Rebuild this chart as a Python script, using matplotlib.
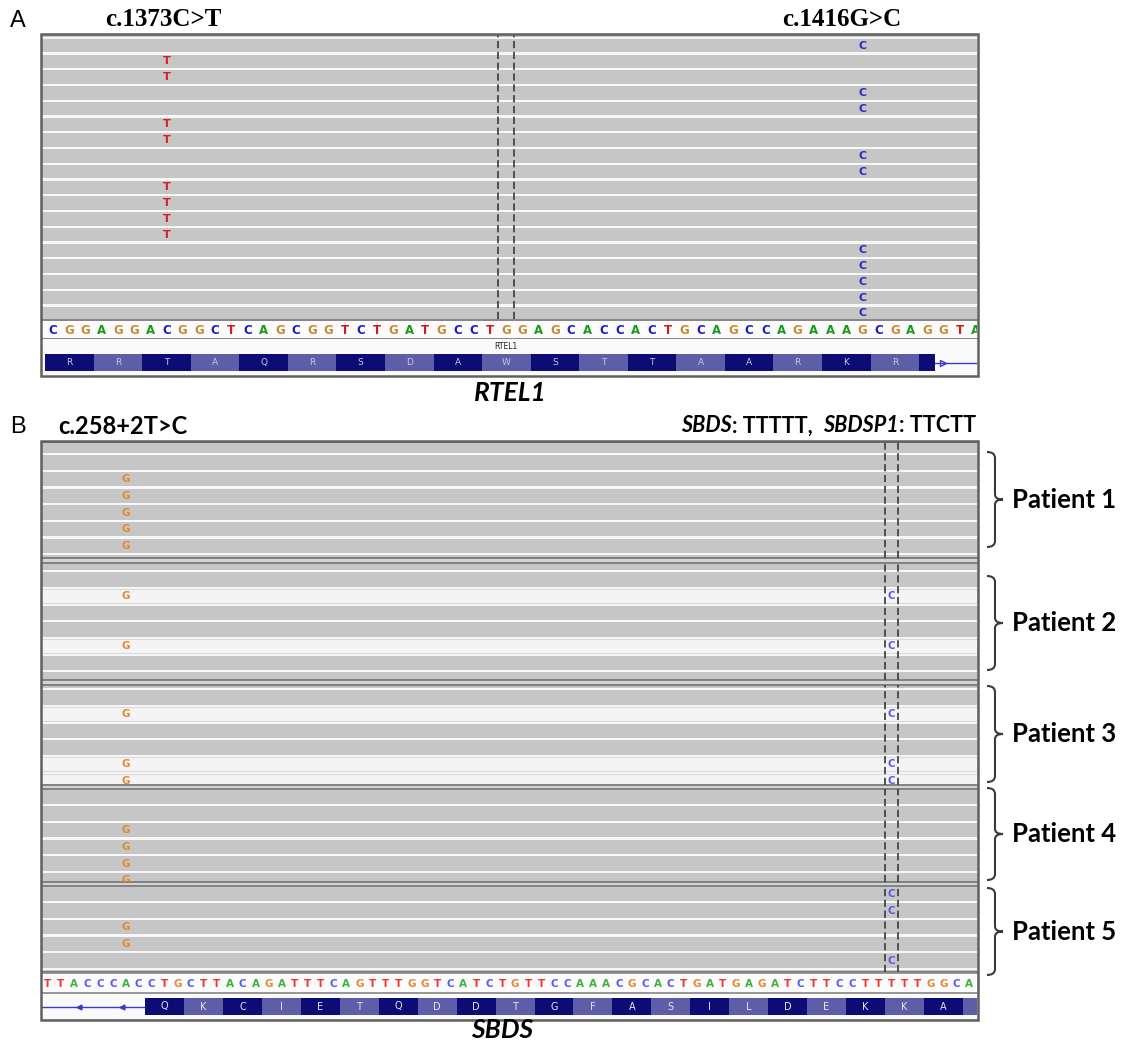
import matplotlib
matplotlib.use("Agg")
import matplotlib.pyplot as plt
from matplotlib.patches import Rectangle, PathPatch
from matplotlib.path import Path

W, H, DPI = 1128, 1044, 100

# ---------------- data ----------------
# Panel A (RTEL1)
ref_seq_A = "CGGAGGACGGCTCAGCGGTCTGATGCCTGGAGCACCACTGCAGCCAGAAAGCGAGGTA"
codons_A = ["R", "R", "T", "A", "Q", "R", "S", "D", "A", "W", "S", "T", "T", "A", "A", "R", "K", "R"]
exon_end_A = 54
gene_A = "RTEL1"
variants_A = ["c.1373C>T", "c.1416G>C"]
var_pos_A = [7, 50]
var_alt_A = ["T", "C"]
rows_A = list(range(-1, 18))
alt_rows_A = [[1, 2, 5, 6, 9, 10, 11, 12], [0, 3, 4, 7, 8, 13, 14, 15, 16, 17]]
center_A = 28

# Panel B (SBDS)
ref_seq_B = "TTACCCACCTGCTTACAGATTTCAGTTTGGTCATCTGTTCCAAACGCACTGATGAGATCTTCCTTTTTGGCA"
codons_B = ["Q", "K", "C", "I", "E", "T", "Q", "D", "D", "T", "G", "F", "A", "S", "I", "L", "D", "E", "K", "K", "A"]
exon_start_B = 8
gene_B = "SBDS"
variant_B = "c.258+2T>C"
var_pos_B = [6, 65]
var_alt_B = ["G", "C"]
patients = ["Patient 1", "Patient 2", "Patient 3", "Patient 4", "Patient 5"]
rows_B = [list(range(0, 8)), list(range(0, 8)), list(range(-1, 6)), list(range(0, 6)), list(range(0, 6))]
light_rows_B = [[], [2, 5], [1, 4, 5], [], []]
g_rows_B = [[2, 3, 4, 5, 6], [2, 5], [1, 4, 5], [2, 3, 4, 5], [2, 3]]
c_rows_B = [[], [2, 5], [1, 4, 5], [], [0, 1, 4]]
center_B = 65

# ---------------- style ----------------
READ_GRAY = "#c6c6c6"
READ_LIGHT = "#f4f4f4"
GAP = "#f7f7f7"
BORDER = "#606060"
AA_DARK = "#0c0c74"
AA_LIGHT = "#5e5ea8"
colA = {"A": "#1a9a1a", "C": "#1c1cc0", "G": "#c98a2e", "T": "#d81818"}
colB = {"A": "#3cb03c", "C": "#5a5af0", "G": "#e08a3a", "T": "#f03434"}
altcolA = {"T": "#d42020", "C": "#2a2ac8"}
altcolB = {"G": "#e0892f", "C": "#5a5af0"}

fig = plt.figure(figsize=(W / DPI, H / DPI), dpi=DPI)
fig.patch.set_facecolor("white")


def px_axes(l, t, r, b, z=1):
    ax = fig.add_axes([l / W, 1 - b / H, (r - l) / W, (b - t) / H], zorder=z)
    ax.set_xticks([])
    ax.set_yticks([])
    return ax


def draw_reads(ax, rows, xlim, c0, h, top, bottom, light=(), gap_px=2.4):
    ax.set_xlim(*xlim)
    ax.set_ylim((bottom - c0) / h, (top - c0) / h)
    ax.set_facecolor(GAP)
    g = gap_px / h
    for k in rows:
        fc = READ_LIGHT if k in light else READ_GRAY
        ax.add_patch(Rectangle((xlim[0] - 1, k - 0.5 + g / 2), xlim[1] - xlim[0] + 2, 1 - g,
                               facecolor=fc, edgecolor="#dadada" if k in light else "none",
                               lw=0.8, zorder=1))


def draw_seq(ax, seq, xlim, cols, fs):
    ax.set_xlim(*xlim)
    ax.set_ylim(0, 1)
    ax.set_facecolor("#fbfbfb")
    for i, b in enumerate(seq):
        ax.text(i, 0.45, b, color=cols[b], fontsize=fs, fontweight="bold",
                ha="center", va="center", clip_on=True, family="DejaVu Sans")


# ---------------- Panel A ----------------
xlimA = (-0.69, 57.08)
axA = px_axes(42, 35, 977, 319)
draw_reads(axA, rows_A, xlimA, 45.6, 15.75, 35, 319)
for pos, alt, rws in zip(var_pos_A, var_alt_A, alt_rows_A):
    for k in rws:
        axA.text(pos, k, alt, color=altcolA[alt], fontsize=8, fontweight="bold",
                 ha="center", va="center", clip_on=True, zorder=3)
for xv in (center_A - 0.5, center_A + 0.5):
    axA.axvline(xv, color="#454545", lw=1.3, ls=(0, (4, 2)), zorder=4)
for s in axA.spines.values():
    s.set_visible(False)

axAs = px_axes(42, 320, 977, 339)
draw_seq(axAs, ref_seq_A, xlimA, colA, 8.5)
for k, s in axAs.spines.items():
    s.set_visible(k in ("top", "bottom"))
    s.set_color("#707070")
    s.set_linewidth(1.2)

axAg = px_axes(42, 339, 977, 375)
axAg.set_xlim(*xlimA)
axAg.set_ylim(1, 0)
axAg.set_facecolor("#fafafa")
for s in axAg.spines.values():
    s.set_visible(False)
nA = len(codons_A)
axAg.bar([3 * k + 1 for k in range(nA)], 0.47, width=3, bottom=0.42, align="center",
         color=[AA_DARK if k % 2 == 0 else AA_LIGHT for k in range(nA)], zorder=2)
axAg.bar([exon_end_A], 0.47, width=1, bottom=0.42,
         color=AA_DARK if nA % 2 == 0 else AA_LIGHT, zorder=2)
for k, aa in enumerate(codons_A):
    axAg.text(3 * k + 1, 0.655, aa, color="#c8c8dc", fontsize=6.5, ha="center", va="center", zorder=3)
axAg.plot([exon_end_A + 0.5, xlimA[1]], [0.655, 0.655], color="#3a3ad0", lw=1.0, zorder=1)
axAg.plot([exon_end_A + 1.0], [0.655], marker=">", ms=5, mfc="none", mec="#3a3ad0", mew=1.0)
axAg.text(center_A, 0.22, gene_A, fontsize=5.5, ha="center", va="center", color="#202020")

fig.add_artist(Rectangle((41 / W, 1 - 376 / H), 937 / W, 342 / H, transform=fig.transFigure,
                         fill=False, ec=BORDER, lw=1.8, zorder=20))

# ---------------- Panel B ----------------
xlimB = (-0.46, 71.6)
groups_px = [(442, 558, 445.7), (563, 680, 562.7), (685, 785, 697.5), (789, 882, 796.8), (886, 972, 893.8)]
hB = 16.7
bg = px_axes(41, 441, 978, 1020, z=0)
bg.set_facecolor("#d4d4d4")
for s in bg.spines.values():
    s.set_visible(False)

for gi, (top, bot, c0) in enumerate(groups_px):
    ax = px_axes(42, top, 977, bot)
    draw_reads(ax, rows_B[gi], xlimB, c0, hB, top, bot, light=light_rows_B[gi])
    for k in g_rows_B[gi]:
        ax.text(var_pos_B[0], k, var_alt_B[0], color=altcolB["G"], fontsize=7.5, fontweight="bold",
                ha="center", va="center", clip_on=True, zorder=3)
    for k in c_rows_B[gi]:
        ax.text(var_pos_B[1], k, var_alt_B[1], color=altcolB["C"], fontsize=7.5, fontweight="bold",
                ha="center", va="center", clip_on=True, zorder=3)
    for xv in (center_B - 0.5, center_B + 0.5):
        ax.axvline(xv, color="#454545", lw=1.3, ls=(0, (4, 2)), zorder=4)
    for k, s in ax.spines.items():
        s.set_visible(k in ("top", "bottom"))
        s.set_color("#7a7a7a")
        s.set_linewidth(1.3)

axBs = px_axes(42, 973, 977, 993)
draw_seq(axBs, ref_seq_B, xlimB, colB, 7.5)
for k, s in axBs.spines.items():
    s.set_visible(k in ("top", "bottom"))
    s.set_color("#8a8a8a")
    s.set_linewidth(1.2)

axBg = px_axes(42, 994, 977, 1019)
axBg.set_xlim(*xlimB)
axBg.set_ylim(1, 0)
axBg.set_facecolor("#fafafa")
for s in axBg.spines.values():
    s.set_visible(False)
nB = len(codons_B)
centersB = [exon_start_B + 3 * k + 1 for k in range(nB)]
axBg.bar(centersB, 0.68, width=3, bottom=0.16,
         color=[AA_DARK if k % 2 == 0 else AA_LIGHT for k in range(nB)], zorder=2)
last_B = exon_start_B + 3 * nB
axBg.bar([last_B + 0.5], 0.68, width=2, bottom=0.16,
         color=AA_DARK if nB % 2 == 0 else AA_LIGHT, zorder=2)
for cx, aa in zip(centersB, codons_B):
    axBg.text(cx, 0.5, aa, color="#e6e6f0", fontsize=7, ha="center", va="center", zorder=3)
axBg.plot([xlimB[0], exon_start_B - 0.5], [0.5, 0.5], color="#3a3ad0", lw=1.0, zorder=1)
axBg.plot([2.4, 5.7], [0.5, 0.5], ls="none", marker="<", ms=3.5, color="#3a3ad0")

fig.add_artist(Rectangle((41 / W, 1 - 1020 / H), 937 / W, 579 / H, transform=fig.transFigure,
                         fill=False, ec=BORDER, lw=1.8, zorder=20))

# ---------------- overlay text / brackets ----------------
ov = fig.add_axes([0, 0, 1, 1], zorder=30)
ov.set_xlim(0, W)
ov.set_ylim(H, 0)
ov.axis("off")
ov.patch.set_alpha(0)

ov.text(18, 21, "A", fontsize=17, ha="center", va="center", family="Liberation Sans")
ov.text(18, 427, "B", fontsize=17, ha="center", va="center", family="Liberation Sans")
for x, lab in zip([163, 842], variants_A):
    ov.text(x, 19, lab, fontsize=18, fontweight="bold", family="Liberation Serif",
            ha="center", va="center")
ov.text(510, 393, gene_A, fontsize=19, fontweight="bold", style="italic", family="Lato",
        ha="center", va="center")
ov.text(502, 1030, gene_B, fontsize=19, fontweight="bold", style="italic", family="Lato",
        ha="center", va="center")
ov.text(58, 426, variant_B, fontsize=17, fontweight="bold", family="Lato", ha="left", va="center")

# mixed-style header on the right of panel B
pieces = [("SBDS", "italic"), (": TTTTT,  ", "normal"), ("SBDSP1", "italic"), (": TTCTT", "normal")]
renderer = fig.canvas.get_renderer()
tmp = []
for txt, st in pieces:
    t = ov.text(0, 426, txt, fontsize=15.5, fontweight="bold", style=st, family="Lato",
                ha="left", va="center")
    tmp.append(t)
widths = [t.get_window_extent(renderer).width for t in tmp]
x = 976 - sum(widths)
for t, w in zip(tmp, widths):
    t.set_x(x)
    x += w

brackets = [(452, 547), (576, 670), (686, 782), (788, 880), (888, 975)]
for (t, b), name in zip(brackets, patients):
    m = (t + b) / 2
    xv, xl, xr = 995, 987, 1003
    verts = [(xl, t), (xv, t), (xv, t + 6), (xv, m - 5), (xv, m), (xr, m), (xv, m), (xv, m + 5),
             (xv, b - 6), (xv, b), (xl, b)]
    codes = [Path.MOVETO, Path.CURVE3, Path.CURVE3, Path.LINETO, Path.CURVE3, Path.CURVE3,
             Path.CURVE3, Path.CURVE3, Path.LINETO, Path.CURVE3, Path.CURVE3]
    ov.add_patch(PathPatch(Path(verts, codes), fill=False, ec="#3a3a3a", lw=1.5))
    ov.text(1012, m, name, fontsize=18.5, fontweight="bold", family="Lato", ha="left", va="center")

fig.savefig("out.png", dpi=DPI, facecolor="white")
